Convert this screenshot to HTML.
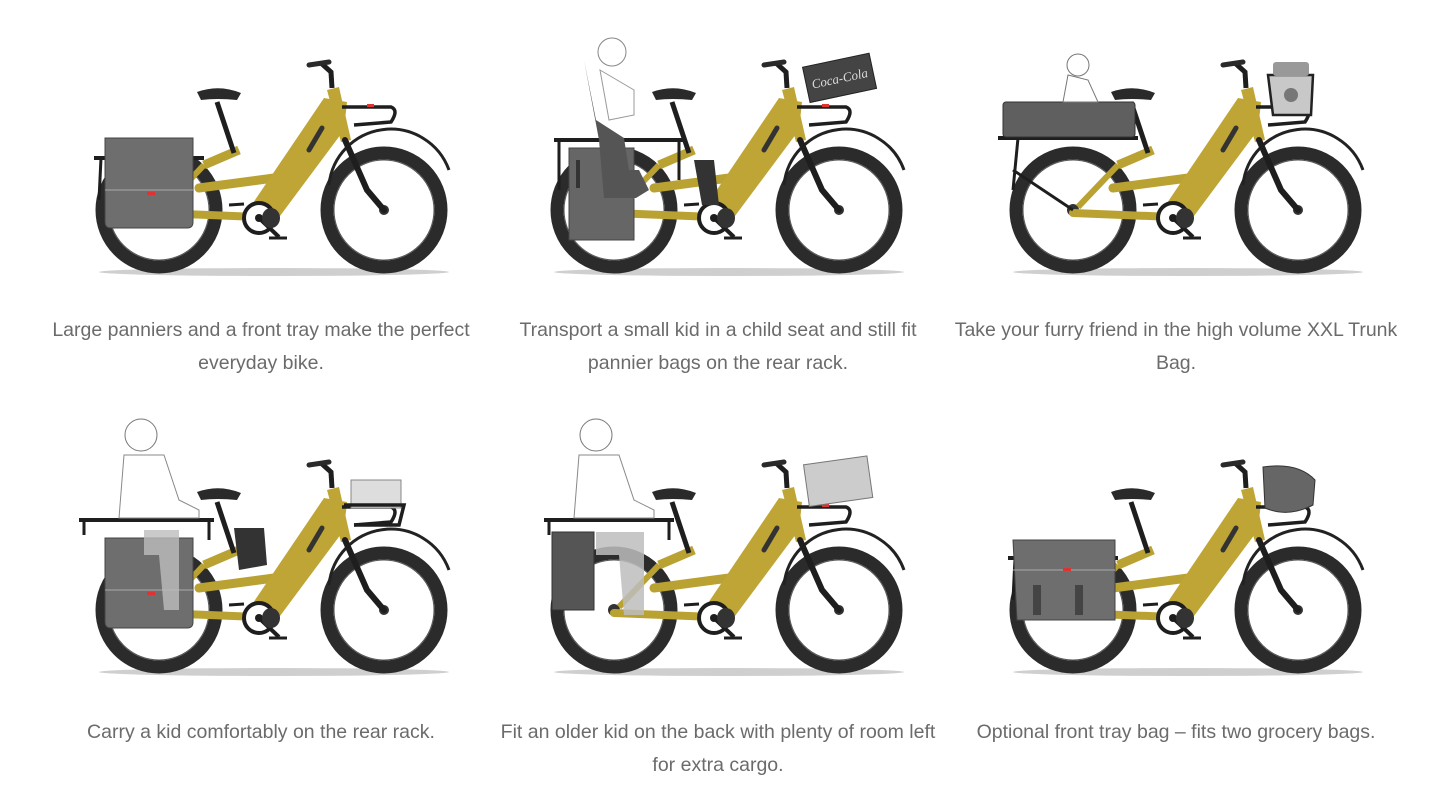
<!DOCTYPE html>
<html><head><meta charset="utf-8"><style>
html,body{margin:0;padding:0;background:#fff;}
body{width:1445px;height:811px;position:relative;overflow:hidden;font-family:"Liberation Sans",sans-serif;}
.cap{position:absolute;width:460px;text-align:center;color:#6b6b6b;font-size:19.5px;line-height:33px;}
svg{position:absolute;left:0;top:0;}
</style></head><body>
<svg width="1445" height="811" viewBox="0 0 1445 811">
<defs>
<g id="bike">
  <ellipse cx="115" cy="62" rx="175" ry="4" fill="#cfcfcf"/>
  <circle cx="0" cy="0" r="57" fill="#fff" stroke="#2b2b2b" stroke-width="13"/>
  <circle cx="225" cy="0" r="57" fill="#fff" stroke="#2b2b2b" stroke-width="13"/>
  <circle cx="0" cy="0" r="50" fill="none" stroke="#555" stroke-width="1"/>
  <circle cx="225" cy="0" r="50" fill="none" stroke="#555" stroke-width="1"/>
  <circle cx="0" cy="0" r="6" fill="#333"/>
  <circle cx="225" cy="0" r="5" fill="#333"/>
  <path d="M170,-25 A62,62 0 0 1 290,-40" fill="none" stroke="#222" stroke-width="3"/>
  <path d="M0,3 L100,7" stroke="#b9a232" stroke-width="8" stroke-linecap="round"/>
  <path d="M40,-22 L130,-34" stroke="#b9a232" stroke-width="9" stroke-linecap="round"/>
  <path d="M5,-3 L45,-45" stroke="#b9a232" stroke-width="6"/>
  <path d="M45,-45 L80,-60" stroke="#b9a232" stroke-width="9"/>
  <path d="M75,-57 L58,-108" stroke="#1e1e1e" stroke-width="5"/>
  <path d="M38,-118 Q60,-126 82,-117 L78,-110 Q58,-112 42,-110 Z" fill="#2a2a2a"/>
  <path d="M100,10 L92,-4 L165,-112 L188,-108 L185,-80 L118,10 Z" fill="#bfa535"/>
  <path d="M150,-60 L163,-82" stroke="#333" stroke-width="5" stroke-linecap="round"/>
  <path d="M168,-120 L180,-123 L192,-70 L182,-68 Z" fill="#bfa535"/>
  <path d="M186,-70 L208,-20 L225,0" stroke="#1e1e1e" stroke-width="6" fill="none" stroke-linecap="round"/>
  <path d="M173,-122 L172,-138 L162,-147" stroke="#1e1e1e" stroke-width="5" fill="none"/>
  <path d="M150,-145 L170,-148" stroke="#2a2a2a" stroke-width="5" stroke-linecap="round"/>
  <path d="M183,-103 L232,-103 Q240,-100 232,-88 L195,-85" stroke="#1e1e1e" stroke-width="3.5" fill="none"/>
  <rect x="208" y="-106" width="7" height="3" fill="#d33"/>
  <circle cx="100" cy="8" r="15" fill="#fff" stroke="#1e1e1e" stroke-width="4"/>
  <circle cx="100" cy="8" r="4" fill="#1e1e1e"/>
  <path d="M100,8 L120,27" stroke="#1e1e1e" stroke-width="4"/>
  <path d="M110,28 L128,28" stroke="#1e1e1e" stroke-width="3"/>
  <path d="M85,-6 L70,-5" stroke="#1e1e1e" stroke-width="3"/>
  <ellipse cx="112" cy="8" rx="9" ry="10" fill="#333"/>
</g>
<g id="rack">
  <path d="M-65,-52 L45,-52" stroke="#1e1e1e" stroke-width="4"/>
  <path d="M-58,-52 L-60,-10" stroke="#1e1e1e" stroke-width="3"/>
</g>
<g id="pannier">
  <path d="M-54,-72 L34,-72 L34,12 Q34,18 28,18 L-48,18 Q-54,18 -54,12 Z" fill="#6e6e6e" stroke="#444" stroke-width="1"/>
  <path d="M-54,-20 L34,-20" stroke="#aaa" stroke-width="1"/>
  <rect x="-12" y="-18" width="8" height="3" fill="#d33"/>
</g>
</defs>

<g transform="translate(159,210)"><use href="#bike"/><use href="#rack"/><use href="#pannier"/></g>

<g transform="translate(614,210)"><use href="#bike"/>
  <path d="M-60,-70 L70,-70" stroke="#1e1e1e" stroke-width="4"/>
  <path d="M-55,-70 L-55,-20 M65,-70 L65,-30" stroke="#1e1e1e" stroke-width="3"/>
  <path d="M-45,-62 L20,-62 L20,30 L-45,30 Z" fill="#666" stroke="#444"/>
  <rect x="-38" y="-50" width="4" height="28" fill="#333"/><rect x="2" y="-50" width="4" height="28" fill="#333"/>
  <path d="M-30,-150 L-18,-90 L10,-72 L15,-40 L25,-40 L35,-20 L22,-12 L-10,-12 L-15,-70 Z" fill="#555"/>
  <circle cx="-2" cy="-158" r="14" fill="#fff" stroke="#888"/>
  <path d="M-14,-140 L20,-120 L20,-95 L-5,-90 Z" fill="#fff" stroke="#999"/>
  <g transform="rotate(-12 225 -130)"><rect x="192" y="-150" width="68" height="36" fill="#444" stroke="#222"/><text x="226" y="-127" font-size="13" font-style="italic" fill="#ddd" text-anchor="middle" font-family="Liberation Serif,serif">Coca-Cola</text></g>
  <path d="M80,-50 L100,-50 L105,-5 L88,-5 Z" fill="#333"/>
</g>

<g transform="translate(1073,210)"><use href="#bike"/>
  <path d="M-75,-72 L65,-72" stroke="#1e1e1e" stroke-width="4"/>
  <rect x="-70" y="-108" width="132" height="35" rx="3" fill="#5f5f5f" stroke="#333"/>
  <path d="M-55,-72 L-60,-20 M-60,-40 L0,0" stroke="#1e1e1e" stroke-width="3"/>
  <circle cx="5" cy="-145" r="11" fill="#fff" stroke="#777"/>
  <path d="M-5,-135 L-10,-108 L25,-108 L15,-130 Z" fill="#fff" stroke="#777"/>
  <path d="M195,-135 L240,-135 L238,-95 L200,-95 Z" fill="#c8c8c8" stroke="#222" stroke-width="2.5"/>
  <rect x="200" y="-148" width="36" height="14" rx="3" fill="#999"/>
  <circle cx="218" cy="-115" r="7" fill="#777"/>
</g>

<g transform="translate(159,610)"><use href="#bike"/>
  <path d="M-80,-90 L55,-90" stroke="#1e1e1e" stroke-width="4"/>
  <path d="M-75,-90 L-75,-75 M50,-90 L50,-70" stroke="#1e1e1e" stroke-width="3"/>
  <use href="#pannier"/>
  <path d="M-15,-80 L20,-80 L20,0 L5,0 L0,-55 L-15,-55 Z" fill="#bdbdbd" opacity="0.8"/>
  <circle cx="-18" cy="-175" r="16" fill="#fff" stroke="#777"/>
  <path d="M-35,-155 L5,-155 L20,-110 L40,-100 L40,-92 L-40,-92 Z" fill="#fff" stroke="#888"/>
  <path d="M75,-82 L105,-82 L108,-45 L80,-40 Z" fill="#333"/>
  <rect x="192" y="-130" width="50" height="28" fill="#ddd" stroke="#888"/>
  <path d="M185,-105 L245,-105 L240,-85 L195,-85" stroke="#1e1e1e" stroke-width="3.5" fill="none"/>
</g>

<g transform="translate(614,610)"><use href="#bike"/>
  <path d="M-70,-90 L60,-90" stroke="#1e1e1e" stroke-width="4"/>
  <path d="M-65,-90 L-65,-75 M55,-90 L55,-70" stroke="#1e1e1e" stroke-width="3"/>
  <path d="M-62,-78 L-20,-78 L-20,0 L-62,0 Z" fill="#555" stroke="#333"/>
  <path d="M-18,-78 L30,-78 L30,5 L10,5 L5,-55 L-18,-55 Z" fill="#bdbdbd" opacity="0.85"/>
  <circle cx="-18" cy="-175" r="16" fill="#fff" stroke="#777"/>
  <path d="M-35,-155 L5,-155 L20,-110 L40,-100 L40,-92 L-40,-92 Z" fill="#fff" stroke="#888"/>
  <g transform="rotate(-8 225 -130)"><rect x="192" y="-150" width="64" height="42" fill="#ccc" stroke="#777"/></g>
</g>

<g transform="translate(1073,610)"><use href="#bike"/><use href="#rack"/>
  <path d="M-60,-70 L42,-70 L42,10 L-56,10 Z" fill="#6e6e6e" stroke="#444"/>
  <path d="M-60,-40 L42,-40" stroke="#aaa"/><rect x="-10" y="-42" width="8" height="3" fill="#d33"/>
  <rect x="-40" y="-25" width="8" height="30" fill="#444"/><rect x="2" y="-25" width="8" height="30" fill="#444"/>
  <path d="M190,-143 Q225,-148 242,-130 L240,-105 Q215,-92 192,-102 Z" fill="#666" stroke="#333"/>
</g>
</svg>

<div class="cap" style="left:31px;top:314px">Large panniers and a front tray make the perfect<br>everyday bike.</div>
<div class="cap" style="left:488px;top:314px">Transport a small kid in a child seat and still fit<br>pannier bags on the rear rack.</div>
<div class="cap" style="left:946px;top:314px">Take your furry friend in the high volume XXL Trunk<br>Bag.</div>
<div class="cap" style="left:31px;top:716px">Carry a kid comfortably on the rear rack.</div>
<div class="cap" style="left:488px;top:716px">Fit an older kid on the back with plenty of room left<br>for extra cargo.</div>
<div class="cap" style="left:946px;top:716px">Optional front tray bag – fits two grocery bags.</div>
</body></html>
